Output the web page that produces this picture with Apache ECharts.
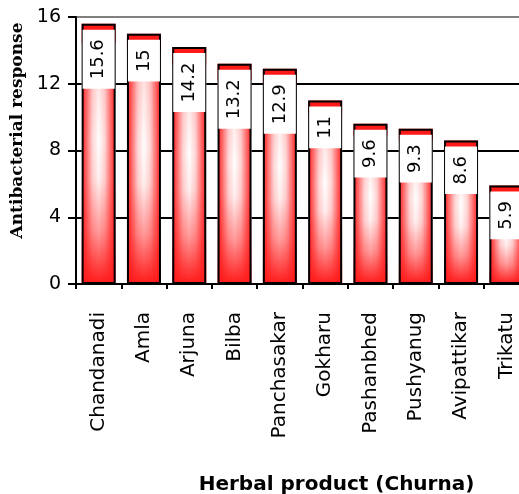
<!DOCTYPE html>
<html>
<head>
<meta charset="utf-8">
<script src="https://cdn.jsdelivr.net/npm/echarts@6/dist/echarts.min.js"></script>
<style>
  html, body { margin: 0; padding: 0; background: #fff; }
  #chart { width: 519px; height: 494px; }
</style>
</head>
<body>
<div id="chart"></div>
<script>
// Herbal churna products and their antibacterial response
const products = ['Chandanadi', 'Amla', 'Arjuna', 'Bilba', 'Panchasakar', 'Gokharu',
                  'Pashanbhed', 'Pushyanug', 'Avipattikar', 'Trikatu'];
const response = [15.6, 15, 14.2, 13.2, 12.9, 11, 9.6, 9.3, 8.6, 5.9];
const yTicks = [0, 4, 8, 12, 16];

const RED = '#ff1a1a';
const chart = echarts.init(document.getElementById('chart'), null, { renderer: 'canvas' });

// Vertical shading: red cap at the top, fading to white, back to red at the base
const verticalFill = new echarts.graphic.LinearGradient(0, 0, 0, 1, [
  { offset: 0, color: RED },
  { offset: 0.07, color: RED },
  { offset: 0.08, color: '#ffd8d8' },
  { offset: 0.45, color: '#ffffff' },
  { offset: 0.6, color: '#fff0f0' },
  { offset: 0.8, color: '#ff9a9a' },
  { offset: 1, color: RED }
]);
// Horizontal shading: red edges fading towards the centre
const edgeShade = new echarts.graphic.LinearGradient(0, 0, 1, 0, [
  { offset: 0, color: 'rgba(255,26,26,1)' },
  { offset: 0.12, color: 'rgba(255,26,26,0.7)' },
  { offset: 0.32, color: 'rgba(255,26,26,0.18)' },
  { offset: 0.5, color: 'rgba(255,26,26,0)' },
  { offset: 0.68, color: 'rgba(255,26,26,0.18)' },
  { offset: 0.88, color: 'rgba(255,26,26,0.7)' },
  { offset: 1, color: 'rgba(255,26,26,1)' }
]);

const option = {
  backgroundColor: '#fff',
  animation: false,
  grid: {
    left: 76, top: 17, width: 453, bottom: 210,
    containLabel: false, outerBoundsMode: 'none'
  },
  xAxis: {
    type: 'category',
    data: products,
    name: 'Herbal product (Churna)',
    nameLocation: 'middle',
    nameGap: 191,
    nameTextStyle: {
      fontFamily: 'DejaVu Sans', fontWeight: 'bold', fontSize: 20, color: '#000',
      padding: [0, 0, 0, 68]
    },
    axisLine: { lineStyle: { color: '#000', width: 2 } },
    axisTick: { show: true, length: 5, interval: 0, lineStyle: { color: '#000', width: 2 } },
    axisLabel: {
      interval: 0, rotate: 90, margin: 28,
      fontFamily: 'DejaVu Sans', fontSize: 20, color: '#000'
    },
    splitLine: { show: false }
  },
  yAxis: {
    type: 'value',
    min: yTicks[0],
    max: yTicks[yTicks.length - 1],
    interval: 4,
    name: 'Antibacterial response',
    nameLocation: 'middle',
    nameGap: 48,
    nameTextStyle: {
      fontFamily: 'DejaVu Serif', fontWeight: 'bold', fontSize: 17, color: '#000',
      padding: [0, 0, 0, 40]
    },
    axisLine: { show: true, lineStyle: { color: '#000', width: 2 } },
    axisTick: { show: true, length: 8, lineStyle: { color: '#000', width: 2 } },
    axisLabel: {
      margin: 15, fontFamily: 'DejaVu Sans', fontSize: 19, color: '#000'
    },
    splitLine: {
      show: true,
      lineStyle: { color: ['#000', '#000', '#000', '#000', '#808080'], width: 2 }
    }
  },
  series: [
    {
      type: 'bar',
      data: response,
      barWidth: 34,
      silent: true,
      itemStyle: { color: verticalFill, borderWidth: 0 },
      z: 2
    },
    {
      type: 'bar',
      data: response,
      barWidth: 34,
      barGap: '-100%',
      itemStyle: { color: edgeShade, borderColor: '#000', borderWidth: 2 },
      label: {
        show: true,
        position: 'insideTop',
        distance: 6,
        rotate: 90,
        align: 'right',
        verticalAlign: 'middle',
        fontFamily: 'DejaVu Sans',
        fontSize: 18,
        color: '#000',
        backgroundColor: '#fff',
        lineHeight: 22,
        padding: [5, 9.5, 5, 9.5]
      },
      z: 3
    }
  ]
};
chart.setOption(option);
</script>
</body>
</html>
